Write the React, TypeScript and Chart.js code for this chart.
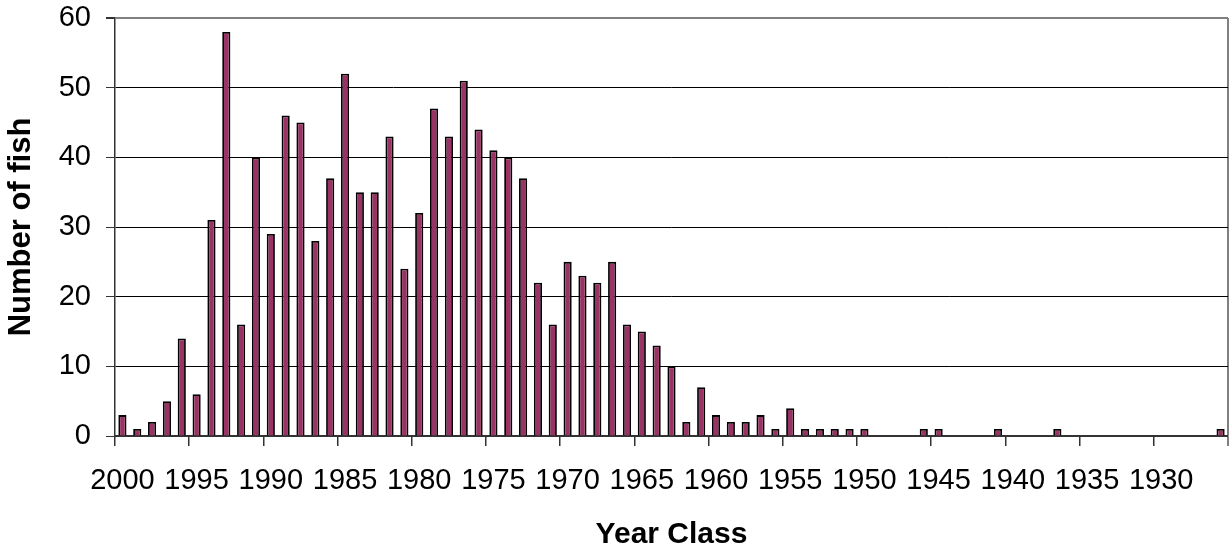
import React, { useEffect, useRef } from 'react';
import { Chart, registerables } from 'chart.js';

Chart.register(...registerables);

const yearClasses = [
  '2000', '1999', '1998', '1997', '1996', '1995', '1994', '1993', '1992', '1991',
  '1990', '1989', '1988', '1987', '1986', '1985', '1984', '1983', '1982', '1981',
  '1980', '1979', '1978', '1977', '1976', '1975', '1974', '1973', '1972', '1971',
  '1970', '1969', '1968', '1967', '1966', '1965', '1964', '1963', '1962', '1961',
  '1960', '1959', '1958', '1957', '1956', '1955', '1954', '1953', '1952', '1951',
  '1950', '1949', '1948', '1947', '1946', '1945', '1944', '1943', '1942', '1941',
  '1940', '1939', '1938', '1937', '1936', '1935', '1934', '1933', '1932', '1931',
  '1930', '1929', '1928', '1927', '1926',
];

const numberOfFish = [
  3, 1, 2, 5, 14, 6, 31, 58, 16, 40,
  29, 46, 45, 28, 37, 52, 35, 35, 43, 24,
  32, 47, 43, 51, 44, 41, 40, 37, 22, 16,
  25, 23, 22, 25, 16, 15, 13, 10, 2, 7,
  3, 2, 2, 3, 1, 4, 1, 1, 1, 1,
  1, 0, 0, 0, 1, 1, 0, 0, 0, 1,
  0, 0, 0, 1, 0, 0, 0, 0, 0, 0,
  0, 0, 0, 0, 1,
];

const labeledYears = [
  '2000', '1995', '1990', '1985', '1980', '1975', '1970', '1965',
  '1960', '1955', '1950', '1945', '1940', '1935', '1930',
];

const yMin = 0;
const yMax = 60;
const yStep = 10;

const FONT = '"Liberation Sans", Arial, sans-serif';

export default function App() {
  const canvasRef = useRef<HTMLCanvasElement | null>(null);

  useEffect(() => {
    const canvas = canvasRef.current;
    if (!canvas) return;
    const chart = new Chart(canvas, {
      type: 'bar',
      data: {
        labels: yearClasses,
        datasets: [
          {
            label: 'Number of fish',
            data: numberOfFish,
            backgroundColor: '#993366',
            borderColor: '#000000',
            borderWidth: 1.8,
            barPercentage: 1,
            categoryPercentage: 0.55,
          },
        ],
      },
      options: {
        animation: false,
        responsive: true,
        maintainAspectRatio: false,
        devicePixelRatio: 1,
        layout: { padding: { top: 18, right: 2, left: 0, bottom: 0 } },
        plugins: {
          legend: { display: false },
          tooltip: { enabled: false },
        },
        scales: {
          x: {
            type: 'category',
            offset: true,
            afterFit: (s: any) => {
              s.height = 114;
              s.paddingLeft = 0;
              s.paddingRight = 0;
            },
            grid: {
              display: true,
              offset: true,
              drawOnChartArea: true,
              drawTicks: true,
              tickLength: 10,
              color: (ctx: any) => (ctx.type === 'scale' ? '#808080' : 'rgba(0,0,0,0)'),
              tickColor: (ctx: any) => {
                if (ctx.type === 'scale') return '#808080';
                return labeledYears.includes(yearClasses[ctx.index]) ? '#333333' : 'rgba(0,0,0,0)';
              },
              lineWidth: (ctx: any) => (ctx.type === 'scale' ? 2 : 1.5),
            },
            border: { display: true, color: '#333333', width: 2 },
            ticks: {
              autoSkip: false,
              maxRotation: 0,
              minRotation: 0,
              padding: 18,
              color: '#000000',
              font: { family: FONT, size: 29 },
              callback: function (this: any, value: any) {
                const lab = this.getLabelForValue(value);
                return labeledYears.includes(lab) ? lab : '';
              },
            },
            title: {
              display: true,
              text: 'Year Class',
              color: '#000000',
              font: { family: FONT, size: 30, weight: 'bold', lineHeight: 1 },
              padding: { top: 0, bottom: 0 },
            },
          },
          y: {
            min: yMin,
            max: yMax,
            afterFit: (s: any) => {
              s.width = 115;
              s.paddingTop = 0;
              s.paddingBottom = 0;
            },
            grid: {
              display: true,
              drawOnChartArea: true,
              drawTicks: true,
              tickLength: 9,
              color: (ctx: any) => {
                if (ctx.type !== 'tick') return 'rgba(0,0,0,0)';
                const v = ctx.tick.value;
                if (v === yMax) return '#808080';
                if (v === yMin) return 'rgba(0,0,0,0)';
                return '#000000';
              },
              lineWidth: (ctx: any) => (ctx.type === 'tick' && ctx.tick.value === yMax ? 2 : 1),
              tickColor: '#333333',
            },
            border: { display: true, color: '#333333', width: 1.5 },
            ticks: {
              stepSize: yStep,
              padding: 15,
              color: '#000000',
              font: { family: FONT, size: 29 },
            },
            title: {
              display: true,
              text: 'Number of fish',
              color: '#000000',
              font: { family: FONT, size: 31, weight: 'bold', lineHeight: 1.2 },
              padding: { top: 3, bottom: 0 },
            },
          },
        },
      },
    });
    return () => chart.destroy();
  }, []);

  return (
    <div style={{ position: 'fixed', left: 0, top: 0, width: 1230, height: 550, background: '#ffffff' }}>
      <canvas ref={canvasRef} />
    </div>
  );
}
